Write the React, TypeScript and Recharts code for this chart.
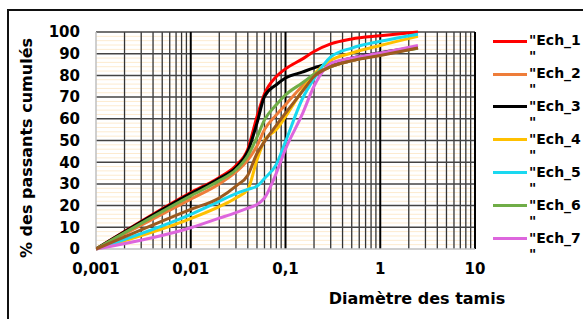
import { LineChart, Line, XAxis, YAxis, ReferenceLine } from "recharts";

// sieve sizes (mm)
const sizes = [0.001, 0.01, 0.02, 0.03, 0.04, 0.05, 0.06, 0.08, 0.1, 0.15, 0.2, 0.3, 0.5, 1, 2.5];

// % passing per sample
const ech1 = [0, 26, 33, 38.5, 46, 61, 71.5, 79.5, 83, 87.5, 91, 94.5, 96.8, 98.3, 100];
const ech2 = [0, 23, 30, 35.5, 41, 47.5, 55, 61.8, 66.5, 75, 80, 84, 86.8, 89.5, 92.8];
const ech3 = [0, 25.5, 32.5, 37.5, 45, 58, 70.3, 75.7, 78.8, 81.5, 83.5, 85.5, 88, 90.5, 93];
const ech4 = [0, 14, 19.5, 23.5, 27.5, 41, 50, 55, 61, 73, 80.5, 87, 90.3, 93.8, 98];
const ech5 = [0, 16, 22, 25.5, 27.5, 29, 32.5, 39, 49.5, 69, 78.5, 88.5, 92.6, 95.7, 99];
const ech6 = [0, 24.5, 31.5, 36.5, 43, 51.5, 59.5, 66.5, 71, 76.5, 80.5, 84, 86.8, 89.5, 92.5];
const ech7 = [0, 9.8, 14.2, 16.8, 18.8, 20.5, 23.5, 35, 46, 62, 75, 85.5, 88, 90.3, 93.8];
const ech8 = [0, 18.3, 23.5, 29, 34, 44, 49.5, 57, 62.6, 72.5, 79.5, 84, 86.8, 89.2, 92.6];

const yTicks = [0, 10, 20, 30, 40, 50, 60, 70, 80, 90, 100];
const yMinor = [2, 4, 6, 8, 12, 14, 16, 18, 22, 24, 26, 28, 32, 34, 36, 38, 42, 44, 46, 48, 52, 54, 56, 58,
  62, 64, 66, 68, 72, 74, 76, 78, 82, 84, 86, 88, 92, 94, 96, 98];
const xTicks = [0.001, 0.01, 0.1, 1, 10];
const xMinor = [
  0.002, 0.003, 0.004, 0.005, 0.006, 0.007, 0.008, 0.009,
  0.02, 0.03, 0.04, 0.05, 0.06, 0.07, 0.08, 0.09,
  0.2, 0.3, 0.4, 0.5, 0.6, 0.7, 0.8, 0.9,
  2, 3, 4, 5, 6, 7, 8, 9,
];

const series = [
  { key: "ech1", label: "\"Ech_1", color: "#FF0000", values: ech1, legend: true },
  { key: "ech2", label: "\"Ech_2", color: "#EE7D3A", values: ech2, legend: true },
  { key: "ech3", label: "\"Ech_3", color: "#000000", values: ech3, legend: true },
  { key: "ech4", label: "\"Ech_4", color: "#FFC000", values: ech4, legend: true },
  { key: "ech5", label: "\"Ech_5", color: "#1AD8F0", values: ech5, legend: true },
  { key: "ech6", label: "\"Ech_6", color: "#70AD47", values: ech6, legend: true },
  { key: "ech7", label: "\"Ech_7", color: "#DD66DD", values: ech7, legend: true },
  { key: "ech8", label: "", color: "#9C5A1F", values: ech8, legend: false },
];

const table = sizes.map((d, i) => {
  const row: Record<string, number> = { d };
  series.forEach((s) => (row[s.key] = s.values[i]));
  return row;
});

const FONT = "'DejaVu Sans', sans-serif";
const tickStyle = { fill: "#000", fontSize: 15, fontWeight: 700, fontFamily: FONT };

export default function App() {
  return (
    <div style={{ position: "fixed", left: 0, top: 0, width: 583, height: 319, overflow: "hidden", background: "#fff" }}>
      <div style={{ position: "absolute", left: 7, top: 9, width: 700, height: 400, border: "2px solid #111" }} />
      <div style={{ position: "absolute", left: 0, top: 0 }}>
        <LineChart width={583} height={319} data={table} margin={{ top: 32, right: 108, bottom: 30, left: 36 }}>
          <XAxis dataKey="d" type="number" scale="log" domain={[0.001, 10]} ticks={xTicks} allowDataOverflow
            tickFormatter={(v) => String(v).replace(".", ",")} tick={tickStyle} interval={0}
            axisLine={false} tickLine={false} tickSize={0} tickMargin={14} height={40} />
          <YAxis type="number" domain={[0, 100]} ticks={yTicks} tick={tickStyle} interval={0}
            axisLine={false} tickLine={false} tickSize={0} tickMargin={16} width={60} />
          {yMinor.map((v) => (
            <ReferenceLine key={"ym" + v} y={v} stroke="#FDEBCF" strokeWidth={1} />
          ))}
          {xMinor.map((v) => (
            <ReferenceLine key={"xm" + v} x={v} stroke="#333" strokeWidth={1.3} />
          ))}
          {yTicks.slice(1).map((v) => (
            <ReferenceLine key={"yM" + v} y={v} stroke="#444" strokeWidth={1.5} />
          ))}
          {xTicks.slice(1).map((v) => (
            <ReferenceLine key={"xM" + v} x={v} stroke="#000" strokeWidth={2} />
          ))}
          <ReferenceLine y={0} stroke="#BFBFBF" strokeWidth={1.5} />
          <ReferenceLine x={0.001} stroke="#BFBFBF" strokeWidth={1.5} />
          {series.map((s) => (
            <Line key={s.key} dataKey={s.key} type="monotone" stroke={s.color} strokeWidth={3}
              dot={false} isAnimationActive={false} />
          ))}
        </LineChart>
      </div>

      <div style={{
        position: "absolute", left: 26, top: 148, transform: "translate(-50%, -50%) rotate(-90deg)",
        whiteSpace: "nowrap", font: `bold 16px ${FONT}`, color: "#000",
      }}>
        % des passants cumulés
      </div>
      <div style={{
        position: "absolute", left: 417, top: 290.5, transform: "translateX(-50%)",
        whiteSpace: "nowrap", font: `bold 16px ${FONT}`, lineHeight: "16px", color: "#000",
      }}>
        Diamètre des tamis
      </div>

      <div style={{ position: "absolute", left: 493, top: 33.2 }}>
        {series.filter((s) => s.legend).map((s) => (
          <div key={s.key} style={{ position: "relative", height: 32.9, width: 120 }}>
            <div style={{ position: "absolute", left: 0, top: 6.5, width: 34, height: 3, background: s.color }} />
            <div style={{
              position: "absolute", left: 36, top: 0, whiteSpace: "nowrap",
              font: `bold 14px ${FONT}`, lineHeight: "14px", color: "#000",
            }}>
              {s.label}
            </div>
            <div style={{
              position: "absolute", left: 36, top: 16, whiteSpace: "nowrap",
              font: `bold 14px ${FONT}`, lineHeight: "14px", color: "#000",
            }}>
              "
            </div>
          </div>
        ))}
      </div>
    </div>
  );
}
